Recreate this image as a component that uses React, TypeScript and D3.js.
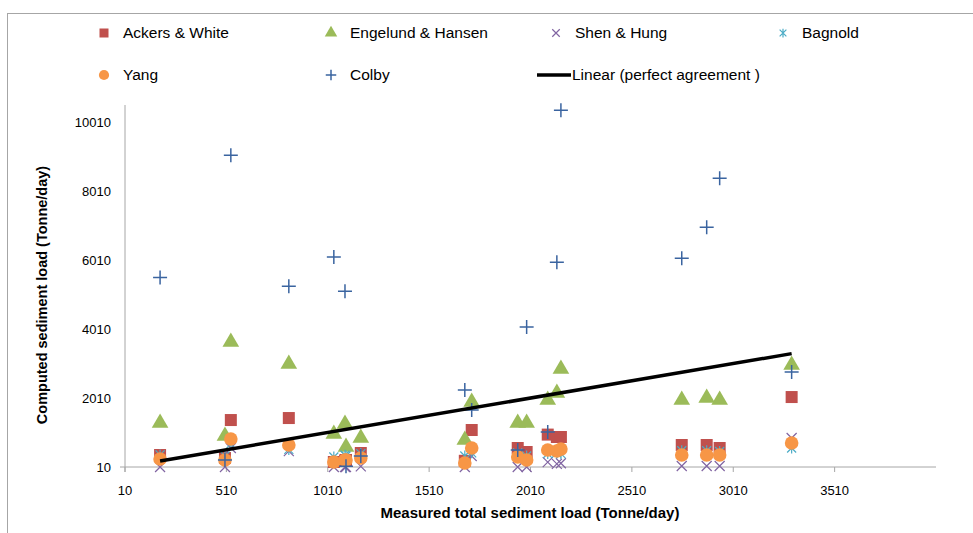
import { useEffect, useRef } from 'react';
import * as d3 from 'd3';

const WIDTH = 973;
const HEIGHT = 533;

// measured loads (x), shared by every method
const measured = [183, 503, 532, 818, 1040, 1095, 1100, 1173, 1686, 1720, 1947, 1991, 2095, 2140, 2160, 2756, 2879, 2943, 3298];

// computed loads per method
const ackersWhite = [358, 271, 1372, 1430, 155, 200, 213, 416, 190, 1083, 561, 445, 950, 880, 880, 648, 648, 561, 2039];
const engelundHansen = [1285, 909, 3634, 2996, 967, 1256, 590, 851, 793, 1894, 1285, 1285, 1952, 2155, 2851, 1952, 2010, 1952, 2967];
const shenHung = [10, 10, 560, 470, 10, 10, 10, 30, 10, 330, 10, 10, 150, 100, 120, 40, 40, 40, 850];
const bagnold = [360, 330, 680, 520, 300, 350, 330, 400, 330, 420, 420, 330, 400, 420, 400, 480, 480, 460, 560];
const yang = [242, 213, 822, 648, 155, 213, 213, 271, 126, 561, 300, 213, 503, 474, 530, 358, 358, 358, 706];
const colby = [5510, 213, 9053, 5256, 6098, 5111, 30, 330, 2242, 1662, 503, 4068, 1025, 5952, 10358, 6068, 6967, 8387, 2764];

const xTicks = [10, 510, 1010, 1510, 2010, 2510, 3010, 3510];
const yTicks = [10, 2010, 4010, 6010, 8010, 10010];

const FONT = '"Liberation Sans", Arial, sans-serif';

type Marker = 'square' | 'triangle' | 'x' | 'star' | 'circle' | 'plus';

const series: { name: string; values: number[]; marker: Marker; color: string }[] = [
  { name: 'Ackers & White', values: ackersWhite, marker: 'square', color: '#c0504d' },
  { name: 'Engelund & Hansen', values: engelundHansen, marker: 'triangle', color: '#9bbb59' },
  { name: 'Shen & Hung', values: shenHung, marker: 'x', color: '#8064a2' },
  { name: 'Bagnold', values: bagnold, marker: 'star', color: '#4bacc6' },
  { name: 'Yang', values: yang, marker: 'circle', color: '#f79646' },
  { name: 'Colby', values: colby, marker: 'plus', color: '#3a64a0' },
];

const drawMarker = (g: d3.Selection<SVGGElement, unknown, null, undefined>, marker: Marker, color: string, small = false) => {
  const k = small ? 0.75 : 1;
  if (marker === 'square') {
    const s = 12 * k;
    g.append('rect').attr('x', -s / 2).attr('y', -s / 2).attr('width', s).attr('height', s).attr('fill', color);
  } else if (marker === 'triangle') {
    g.append('path').attr('d', d3.symbol(d3.symbolTriangle, 120 * k * k)()).attr('fill', color);
  } else if (marker === 'circle') {
    g.append('circle').attr('r', 6.8 * k).attr('fill', color);
  } else if (marker === 'x') {
    const s = 5 * k;
    g.append('path').attr('d', `M${-s},${-s}L${s},${s}M${-s},${s}L${s},${-s}`).attr('stroke', color).attr('stroke-width', 1.2).attr('fill', 'none');
  } else if (marker === 'star') {
    const s = 4.5 * k;
    g.append('path').attr('d', `M${-s},${-s}L${s},${s}M${-s},${s}L${s},${-s}M0,${-s - 1}L0,${s + 1}`).attr('stroke', color).attr('stroke-width', 1.2).attr('fill', 'none');
  } else {
    const s = 7 * k;
    g.append('path').attr('d', `M${-s},0L${s},0M0,${-s}L0,${s}`).attr('stroke', color).attr('stroke-width', 1.5).attr('fill', 'none');
  }
};

export default function App() {
  const svgRef = useRef<SVGSVGElement | null>(null);

  useEffect(() => {
    if (!svgRef.current) return;
    const svg = d3.select(svgRef.current);
    svg.selectAll('*').remove();

    const x = d3.scaleLinear().domain([10, 4010]).range([125, 936]);
    const y = d3.scaleLinear().domain([10, 10510]).range([467, 105]);

    svg.append('rect').attr('width', WIDTH).attr('height', HEIGHT).attr('fill', '#ffffff');
    // chart frame
    svg
      .append('rect')
      .attr('x', 7.5)
      .attr('y', 13.5)
      .attr('width', 1000)
      .attr('height', 600)
      .attr('fill', 'none')
      .attr('stroke', '#a6a6a6');

    // axes
    svg.append('line').attr('x1', x(10)).attr('x2', x(4010)).attr('y1', y(10)).attr('y2', y(10)).attr('stroke', '#a6a6a6');
    svg.append('line').attr('x1', x(10)).attr('x2', x(10)).attr('y1', y(10) + 5).attr('y2', y(10510)).attr('stroke', '#a6a6a6');
    svg.append('line').attr('x1', x(10) - 5).attr('x2', x(10)).attr('y1', y(10)).attr('y2', y(10)).attr('stroke', '#a6a6a6');

    svg
      .append('g')
      .selectAll('line')
      .data(xTicks)
      .enter()
      .append('line')
      .attr('x1', (d) => x(d))
      .attr('x2', (d) => x(d))
      .attr('y1', y(10))
      .attr('y2', y(10) + 5)
      .attr('stroke', '#a6a6a6');

    svg
      .append('g')
      .selectAll('text')
      .data(xTicks)
      .enter()
      .append('text')
      .attr('x', (d) => x(d))
      .attr('y', 495)
      .attr('text-anchor', 'middle')
      .attr('font-family', FONT)
      .attr('font-size', 13)
      .attr('fill', '#000')
      .text((d) => d);

    svg
      .append('g')
      .selectAll('text')
      .data(yTicks)
      .enter()
      .append('text')
      .attr('x', 111)
      .attr('y', (d) => y(d) + 5)
      .attr('text-anchor', 'end')
      .attr('font-family', FONT)
      .attr('font-size', 13)
      .attr('fill', '#000')
      .text((d) => d);

    svg
      .append('text')
      .attr('x', 530)
      .attr('y', 518)
      .attr('text-anchor', 'middle')
      .attr('font-family', FONT)
      .attr('font-size', 15)
      .attr('font-weight', 700)
      .text('Measured total sediment load (Tonne/day)');

    svg
      .append('text')
      .attr('transform', 'translate(47,295) rotate(-90)')
      .attr('text-anchor', 'middle')
      .attr('font-family', FONT)
      .attr('font-size', 14.5)
      .attr('font-weight', 700)
      .text('Computed sediment load (Tonne/day)');

    // points
    series.forEach((s) => {
      const layer = svg.append('g');
      s.values.forEach((v, i) => {
        const g = layer.append('g').attr('transform', `translate(${x(measured[i])},${y(v)})`);
        drawMarker(g, s.marker, s.color);
      });
    });

    // perfect agreement line y = x
    const ext = d3.extent(measured) as [number, number];
    const line = d3
      .line<number>()
      .x((d) => x(d))
      .y((d) => y(d));
    svg.append('path').attr('d', line(ext)).attr('stroke', '#000').attr('stroke-width', 3.5).attr('fill', 'none');

    // legend
    const legendItems = [
      { ...series[0], lx: 104, ly: 33 },
      { ...series[1], lx: 331, ly: 33 },
      { ...series[2], lx: 556, ly: 33 },
      { ...series[3], lx: 783, ly: 33 },
      { ...series[4], lx: 104, ly: 75 },
      { ...series[5], lx: 331, ly: 75 },
    ];
    legendItems.forEach((it) => {
      const g = svg.append('g').attr('transform', `translate(${it.lx},${it.ly})`);
      drawMarker(g, it.marker, it.color, true);
      svg
        .append('text')
        .attr('x', it.lx + 19)
        .attr('y', it.ly + 5)
        .attr('font-family', FONT)
        .attr('font-size', 15.5)
        .attr('fill', '#000')
        .text(it.name);
    });
    svg.append('line').attr('x1', 537).attr('x2', 571).attr('y1', 75).attr('y2', 75).attr('stroke', '#000').attr('stroke-width', 3.5);
    svg
      .append('text')
      .attr('x', 572)
      .attr('y', 80)
      .attr('font-family', FONT)
      .attr('font-size', 15.5)
      .attr('fill', '#000')
      .text('Linear (perfect agreement )');
  }, []);

  return (
    <svg
      ref={svgRef}
      width={WIDTH}
      height={HEIGHT}
      viewBox={`0 0 ${WIDTH} ${HEIGHT}`}
      style={{ position: 'absolute', left: 0, top: 0, display: 'block' }}
    />
  );
}
